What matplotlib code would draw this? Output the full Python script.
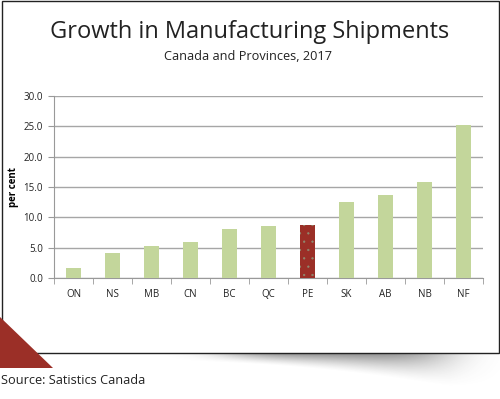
import numpy as np
import matplotlib.pyplot as plt
from matplotlib.patches import Rectangle, Polygon

# data
provinces = ["ON", "NS", "MB", "CN", "BC", "QC", "PE", "SK", "AB", "NB", "NF"]
growth = [1.6, 4.2, 5.3, 5.9, 8.1, 8.6, 8.7, 12.5, 13.7, 15.8, 25.3]
highlight = "PE"

W, H = 500, 399
GREEN = "#C3D69B"
RED = "#9B2F27"
FONT = ["Open Sans", "DejaVu Sans"]

plt.rcParams["hatch.linewidth"] = 0.4

fig = plt.figure(figsize=(W / 100, H / 100), dpi=100)

# background layer in pixel coordinates (frame, shadow, red corner)
bg = fig.add_axes([0, 0, 1, 1], zorder=0)
bg.set_xlim(0, W)
bg.set_ylim(H, 0)
bg.axis("off")

# soft shadow under the frame, deeper towards the right
xx, yy = np.meshgrid(np.arange(W, dtype=float), np.arange(H, dtype=float))
sx = np.exp(-((xx - 335) / 115.0) ** 4)
depth = 8 + 26 * np.clip((xx - 160) / 290.0, 0, 1) ** 2
sy = np.clip(1 - (yy - 353) / depth, 0, 1) ** 1.4
sy[yy < 353] = 0
shade = sx * sy * 0.62
img = np.ones((H, W, 4))
img[..., :3] = 0.3
img[..., 3] = shade
bg.imshow(img, extent=(0, W, H, 0), interpolation="bilinear", zorder=1)

bg.add_patch(Rectangle((1.5, 0.5), 497, 352.5, facecolor="white",
                       edgecolor="#222222", linewidth=1.0, zorder=2))
bg.add_patch(Polygon([(0, 317), (0, 368), (53, 368)], closed=True,
                     facecolor=RED, edgecolor="none", zorder=3))

fig.text(250 / W, 1 - 32 / H, "Growth in Manufacturing Shipments", ha="center",
         va="center", fontsize=17, family=FONT, color="#222222")
fig.text(248 / W, 1 - 56 / H, "Canada and Provinces, 2017", ha="center",
         va="center", fontsize=9.2, family=FONT, color="#222222")
fig.text(1 / W, 1 - 380 / H, "Source: Satistics Canada", ha="left",
         va="center", fontsize=9.2, family=FONT, color="#222222")

# chart
ax = fig.add_axes([54 / W, 1 - 278 / H, (483 - 54) / W, (278 - 96) / H], zorder=5)
ax.patch.set_alpha(0)
x = np.arange(len(provinces))
colors = [RED if p == highlight else GREEN for p in provinces]
bars = ax.bar(x, growth, width=0.4, color=colors, linewidth=0, zorder=3)
hb = bars[provinces.index(highlight)]
hb.set_hatch("..")
hb.set_edgecolor("#8f8a70")

ax.set_xlim(-0.5, len(provinces) - 0.5)
ax.set_ylim(0, 30)
yt = np.arange(0, 30.1, 5)
ax.set_yticks(yt)
ax.set_yticklabels([f"{v:.1f}" for v in yt])
ax.set_xticks(x)
ax.set_xticklabels(provinces)
ax.set_xticks(np.arange(-0.5, len(provinces)), minor=True)
ax.tick_params(axis="x", which="major", length=0, pad=8)
ax.tick_params(axis="x", which="minor", length=4, color="#999999")
ax.tick_params(axis="y", length=4, color="#999999", pad=4)
for lab in ax.get_xticklabels() + ax.get_yticklabels():
    lab.set_family(FONT)
    lab.set_fontsize(7)
    lab.set_color("#222222")

ax.grid(axis="y", color="#A6A6A6", linewidth=1, zorder=0)
for side in ["top", "right"]:
    ax.spines[side].set_visible(False)
for side in ["left", "bottom"]:
    ax.spines[side].set_color("#999999")

ax.set_ylabel("per cent", fontsize=7, fontweight="bold", family=FONT, labelpad=3)

fig.savefig("out.png", dpi=100)
